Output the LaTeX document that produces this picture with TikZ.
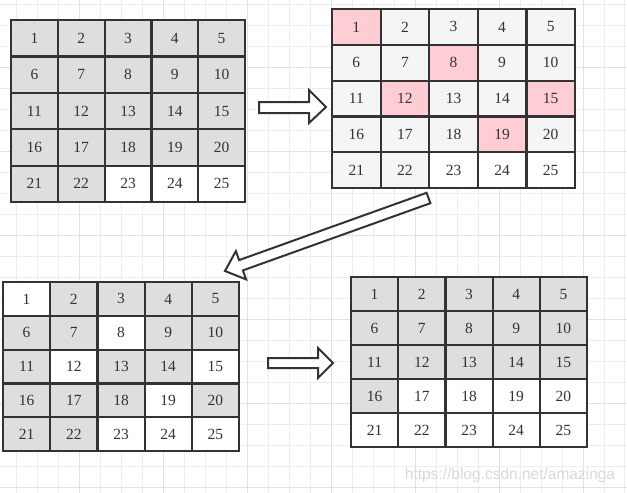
\documentclass[tikz,border=0pt]{standalone}
\usepackage{fontspec}
\setmainfont{Liberation Serif}
\newfontfamily\marksans{Liberation Sans}
\definecolor{ink}{HTML}{333333}
\definecolor{gr}{HTML}{DEDEDE}
\definecolor{lt}{HTML}{F5F5F5}
\definecolor{pk}{HTML}{FFCDD3}
\definecolor{wh}{HTML}{FFFFFF}
\definecolor{minorline}{HTML}{EDEDED}
\definecolor{majorline}{HTML}{E1E1E1}
\definecolor{marktext}{HTML}{D9D9D9}
\tikzset{
  cell/.style={draw=ink, line width=2.2pt, text=ink, inner sep=0pt,
    font=\fontsize{15.5}{15.5}\selectfont},
  bigarrow/.style={draw=ink, fill=white, line width=2pt, line join=miter}
}
\begin{document}
\begin{tikzpicture}[x=1pt,y=-1pt]
\useasboundingbox (0,0) rectangle (627,493);
\fill[white] (0,0) rectangle (627,493);
% background grid
\foreach \k in {0,...,29} \draw[minorline, line width=0.7pt] ({16.7+20.97*\k},0) -- ({16.7+20.97*\k},493);
\foreach \k in {0,...,23} \draw[minorline, line width=0.7pt] (0,{4.6+20.97*\k}) -- (627,{4.6+20.97*\k});
\foreach \k in {3,7,...,27} \draw[majorline, line width=0.7pt] ({16.7+20.97*\k},0) -- ({16.7+20.97*\k},493);
\foreach \k in {3,7,...,23} \draw[majorline, line width=0.7pt] (0,{4.6+20.97*\k}) -- (627,{4.6+20.97*\k});
% top left
\foreach \n/\f in {1/gr,2/gr,3/gr,4/gr,5/gr,6/gr,7/gr,8/gr,9/gr,10/gr,
    11/gr,12/gr,13/gr,14/gr,15/gr,16/gr,17/gr,18/gr,19/gr,20/gr,
    21/gr,22/gr,23/wh,24/wh,25/wh}{
  \pgfmathtruncatemacro\r{(\n-1)/5}
  \pgfmathtruncatemacro\c{\n-1-5*\r}
  \node[cell, fill=\f, minimum width=46.8pt, minimum height=36.4pt] (a\n)
    at ({11+(\c+0.5)*46.8},{20+(\r+0.5)*36.4}) {\n};
}
% top right
\foreach \n/\f in {1/pk,2/lt,3/lt,4/lt,5/lt,6/lt,7/lt,8/pk,9/lt,10/lt,
    11/lt,12/pk,13/lt,14/lt,15/pk,16/lt,17/lt,18/lt,19/pk,20/lt,
    21/lt,22/lt,23/wh,24/wh,25/wh}{
  \pgfmathtruncatemacro\r{(\n-1)/5}
  \pgfmathtruncatemacro\c{\n-1-5*\r}
  \node[cell, fill=\f, minimum width=48.6pt, minimum height=35.8pt] (b\n)
    at ({332+(\c+0.5)*48.6},{9+(\r+0.5)*35.8}) {\n};
}
% bottom left
\foreach \n/\f in {1/wh,2/gr,3/gr,4/gr,5/gr,6/gr,7/gr,8/wh,9/gr,10/gr,
    11/gr,12/wh,13/gr,14/gr,15/wh,16/gr,17/gr,18/gr,19/wh,20/gr,
    21/gr,22/gr,23/wh,24/wh,25/wh}{
  \pgfmathtruncatemacro\r{(\n-1)/5}
  \pgfmathtruncatemacro\c{\n-1-5*\r}
  \node[cell, fill=\f, minimum width=47.2pt, minimum height=33.8pt] (c\n)
    at ({3+(\c+0.5)*47.2},{282+(\r+0.5)*33.8}) {\n};
}
% bottom right
\foreach \n/\f in {1/gr,2/gr,3/gr,4/gr,5/gr,6/gr,7/gr,8/gr,9/gr,10/gr,
    11/gr,12/gr,13/gr,14/gr,15/gr,16/gr,17/wh,18/wh,19/wh,20/wh,
    21/wh,22/wh,23/wh,24/wh,25/wh}{
  \pgfmathtruncatemacro\r{(\n-1)/5}
  \pgfmathtruncatemacro\c{\n-1-5*\r}
  \node[cell, fill=\f, minimum width=47.2pt, minimum height=34pt] (d\n)
    at ({351+(\c+0.5)*47.2},{277+(\r+0.5)*34}) {\n};
}
% block arrows
\draw[bigarrow] (259,102) -- (309,102) -- (309,90) -- (326,107) -- (309,123)
  -- (309,113) -- (259,113) -- cycle;
\draw[bigarrow] (426.6,192.8) -- (239.1,260.1) -- (235.9,251.1) -- (225,271)
  -- (246.1,279.4) -- (242.9,270.4) -- (430.4,203.2) -- cycle;
\draw[bigarrow] (268,358) -- (318,358) -- (318,348) -- (333,363) -- (318,378)
  -- (318,368) -- (268,368) -- cycle;
\node[text=marktext, font=\marksans\fontsize{15.5}{15.5}\selectfont] (watermark)
  at (510,475) {https://blog.csdn.net/amazinga};
\end{tikzpicture}
\end{document}
